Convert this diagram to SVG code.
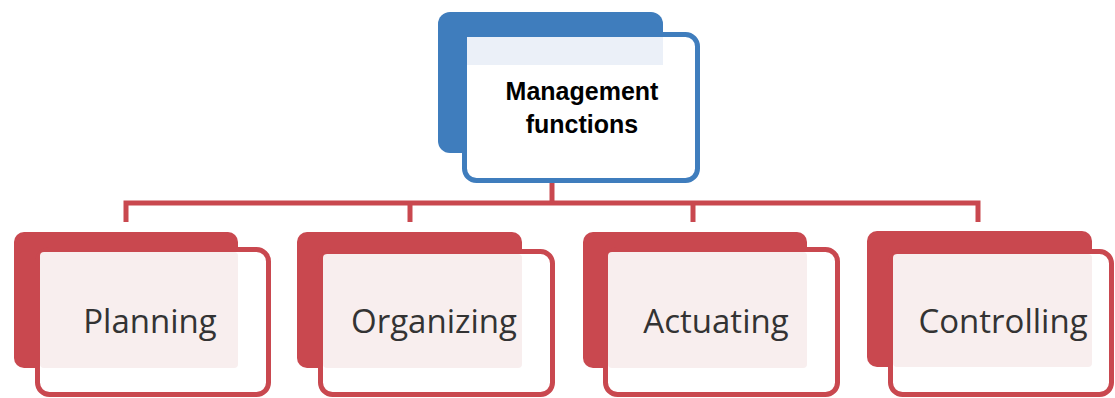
<svg xmlns="http://www.w3.org/2000/svg" width="1115" height="398" viewBox="0 0 1115 398">
<style>
.bkb{fill:#3f7dbd}
.frb{fill:#ffffff;stroke:#3f7dbd;stroke-width:5}
.bkr{fill:#c9484f}
.frr{fill:#ffffff;stroke:#c9484f;stroke-width:5}
.pink{fill:#f8eeee}
.lt{font-family:"Open Sans","Noto Sans",sans-serif;font-size:33px;fill:#333333;text-anchor:middle}
.tt{font-family:"Liberation Sans",Arial,sans-serif;font-size:25px;font-weight:bold;fill:#000000;text-anchor:middle}
.con{fill:none;stroke:#c9484f;stroke-width:5}
</style>
<rect width="1115" height="398" fill="#ffffff"/>
<g id="connectors">
<path class="con" d="M126,222 V203 H978 V222"/>
<path class="con" d="M552,183 V203"/>
<path class="con" d="M410,203 V222"/>
<path class="con" d="M693,203 V222"/>
</g>
<g id="management">
<rect class="bkb" x="438" y="12" width="225" height="141" rx="12"/>
<rect class="frb" x="464.5" y="34.5" width="233" height="146" rx="12"/>
<rect x="467" y="37" width="196" height="28" fill="#ebf0f8"/>
<rect x="478" y="65" width="185" height="88" fill="#ffffff"/>
<text class="tt" x="582" y="100">Management</text>
<text class="tt" x="582" y="133">functions</text>
</g>
<g id="planning">
<rect class="bkr" x="14" y="232" width="224" height="136" rx="10"/>
<rect class="frr" x="37.5" y="249.5" width="231" height="145" rx="12"/>
<rect class="pink" x="40" y="252" width="198" height="116" rx="4"/>
<text class="lt" x="150" y="333">Planning</text>
</g>
<g id="organizing">
<rect class="bkr" x="297" y="232" width="225" height="136" rx="10"/>
<rect class="frr" x="320.5" y="251.5" width="232" height="143" rx="12"/>
<rect class="pink" x="323" y="254" width="199" height="114" rx="4"/>
<text class="lt" x="434" y="333">Organizing</text>
</g>
<g id="actuating">
<rect class="bkr" x="583" y="232" width="224" height="136" rx="10"/>
<rect class="frr" x="605.5" y="249.5" width="232" height="145" rx="12"/>
<rect class="pink" x="608" y="252" width="199" height="116" rx="4"/>
<text class="lt" x="716" y="333">Actuating</text>
</g>
<g id="controlling">
<rect class="bkr" x="867" y="231" width="225" height="136" rx="10"/>
<rect class="frr" x="890.5" y="251.5" width="221" height="143" rx="12"/>
<rect class="pink" x="893" y="254" width="199" height="113" rx="4"/>
<text class="lt" x="1003" y="333">Controlling</text>
</g>
</svg>
